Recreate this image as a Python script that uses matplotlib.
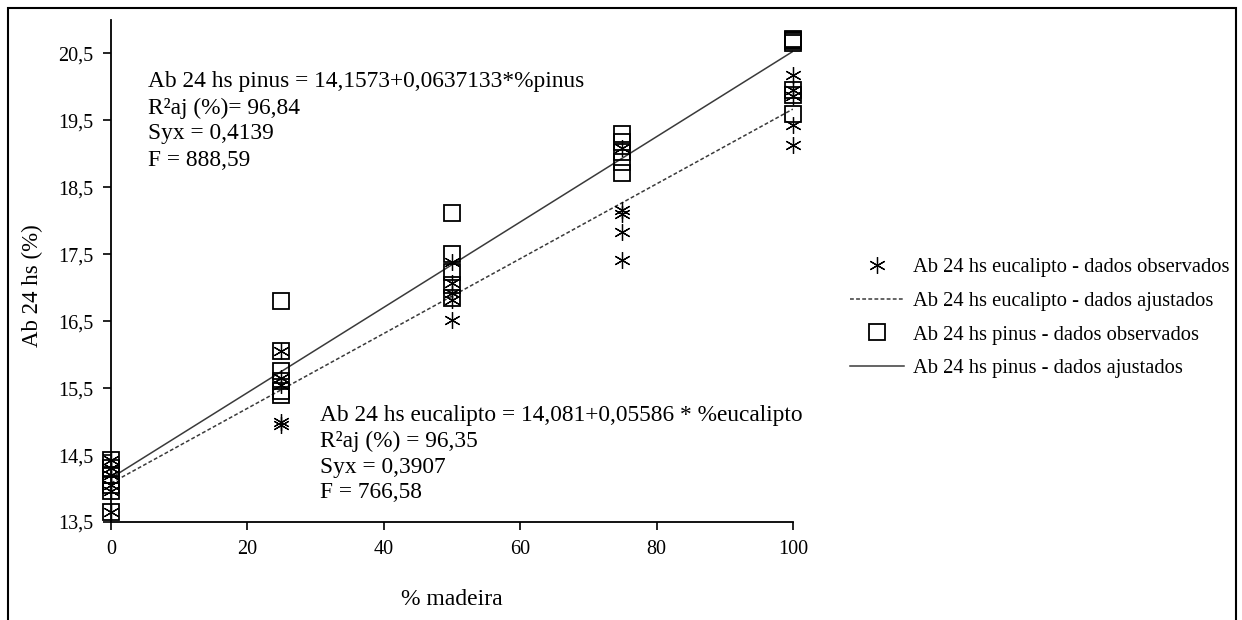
import numpy as np
import matplotlib.pyplot as plt
from matplotlib.patches import Rectangle

plt.rcParams['font.family'] = ['Liberation Serif', 'DejaVu Serif']

# ==== Data ====
x_euc = [0, 0, 0, 0, 0, 0,
         25, 25, 25, 25, 25,
         50, 50, 50, 50, 50,
         75, 75, 75, 75, 75,
         100, 100, 100, 100, 100]
y_euc = [14.42, 14.3, 14.2, 14.05, 13.97, 13.65,
         16.05, 15.65, 15.55, 15.0, 14.95,
         17.38, 17.07, 16.92, 16.82, 16.52,
         19.08, 18.16, 18.1, 17.83, 17.41,
         20.17, 19.95, 19.87, 19.43, 19.13]

x_pin = [0, 0, 0, 0, 0, 0,
         25, 25, 25, 25, 25, 25,
         50, 50, 50, 50, 50,
         75, 75, 75, 75, 75,
         100, 100, 100, 100, 100, 100, 100]
y_pin = [14.42, 14.3, 14.2, 14.05, 13.97, 13.65,
         16.8, 16.05, 15.75, 15.6, 15.45, 15.4,
         18.11, 17.5, 17.23, 17.04, 16.84,
         19.3, 19.17, 19.02, 18.87, 18.72,
         20.72, 20.7, 20.68, 20.66, 19.95, 19.88, 19.6]

# fitted equations
b0_euc, b1_euc = 14.081, 0.05586
b0_pin, b1_pin = 14.1573, 0.0637133
x_fit = np.array([0, 100])

yticks = [13.5, 14.5, 15.5, 16.5, 17.5, 18.5, 19.5, 20.5]
xticks = [0, 20, 40, 60, 80, 100]

# ==== Plot ====
fig = plt.figure(figsize=(12.42, 6.2), dpi=100)
ax = fig.add_axes([0.0894, 0.158, 0.549, 0.810])

line_col = '#3a3a3a'
ax.plot(x_euc, y_euc, linestyle='none', marker=(6, 2, 0), markersize=12,
        markeredgewidth=0.9, color='black', clip_on=False,
        label='Ab 24 hs eucalipto - dados observados', zorder=3)
ax.plot(x_fit, b0_euc + b1_euc * x_fit, color=line_col, linestyle=(0, (2.5, 1.5)),
        linewidth=1.1, label='Ab 24 hs eucalipto - dados ajustados')
ax.plot(x_pin, y_pin, linestyle='none', marker='s', markersize=11,
        markerfacecolor='none', markeredgecolor='black', markeredgewidth=1.3,
        clip_on=False, label='Ab 24 hs pinus - dados observados', zorder=3)
ax.plot(x_fit, b0_pin + b1_pin * x_fit, color=line_col, linestyle='-',
        linewidth=1.1, label='Ab 24 hs pinus - dados ajustados')

ax.set_xlim(0, 100)
ax.set_ylim(13.5, 21.0)
ax.set_xticks(xticks)
ax.set_yticks(yticks)
ax.set_yticklabels([f"{v:.1f}".replace('.', ',') for v in yticks])
ax.spines['top'].set_visible(False)
ax.spines['right'].set_visible(False)
for s in ['left', 'bottom']:
    ax.spines[s].set_linewidth(1.3)
ax.tick_params(axis='both', direction='out', length=6, width=1.2,
               labelsize=14.5, pad=7)
ax.set_xlabel('% madeira', fontsize=17)
ax.set_ylabel('Ab 24 hs (%)', fontsize=16.5)
ax.xaxis.set_label_coords(0.5, -0.133)
ax.yaxis.set_label_coords(-0.1, 0.47)

# equations
pin_txt = ["Ab 24 hs pinus = 14,1573+0,0637133*%pinus",
           "R\u00b2aj (%)= 96,84",
           "Syx = 0,4139",
           "F = 888,59"]
euc_txt = ["Ab 24 hs eucalipto = 14,081+0,05586 * %eucalipto",
           "R\u00b2aj (%) = 96,35",
           "Syx = 0,3907",
           "F = 766,58"]
for i, t in enumerate(pin_txt):
    fig.text(148 / 1242, 1 - (82 + 26 * i) / 620, t, fontsize=16.8, va='center')
for i, t in enumerate(euc_txt):
    fig.text(320 / 1242, 1 - (415 + 26 * i) / 620, t, fontsize=16.8, va='center')

leg = ax.legend(loc='center left', bbox_to_anchor=(840 / 1242, 1 - 318 / 620),
                bbox_transform=fig.transFigure, frameon=False, fontsize=14.8,
                handlelength=2.6, handletextpad=0.45, labelspacing=0.7,
                borderpad=0)

# outer frame
fig.patches.append(Rectangle((8 / 1242, -0.02), 1228 / 1242, 1.02 - 8 / 620,
                             transform=fig.transFigure, fill=False,
                             edgecolor='black', linewidth=1.5))

fig.savefig('out.png', dpi=100)
